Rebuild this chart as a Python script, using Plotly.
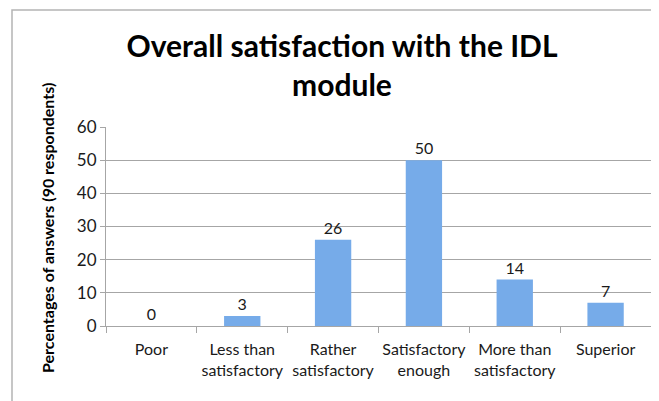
import plotly.graph_objects as go

# Survey answers (percent of 90 respondents)
CATEGORIES = ["Poor", "Less than<br>satisfactory", "Rather<br>satisfactory",
              "Satisfactory<br>enough", "More than<br>satisfactory", "Superior"]
PERCENTS = [0, 3, 26, 50, 14, 7]
Y_TICKS = [0, 10, 20, 30, 40, 50, 60]

FONT = "Lato, 'Open Sans', sans-serif"
TEXT = "#1a1a1a"
GRID = "#a6a6a6"
BAR = "#76abe9"

# page body has an 8px margin, so the figure is 8px smaller than the window
W, H = 651, 393
L, R, T, B = 98, 8, 119, 75
pw, ph = W - L - R, H - T - B

fig = go.Figure(go.Bar(
    x=CATEGORIES, y=PERCENTS,
    marker=dict(color=BAR, line=dict(width=0)),
    text=[str(v) for v in PERCENTS], textposition="outside",
    textfont=dict(family=FONT, size=16, color=TEXT),
    cliponaxis=False, width=0.4,
))

# thin frame around the chart (like the spreadsheet chart border)
fig.add_shape(type="rect", xref="paper", yref="paper",
              x0=(4 - L) / pw, x1=(W + 20 - L) / pw,
              y0=-(H + 20 - T - ph) / ph, y1=(H - B - 2) / ph,
              line=dict(color="#b4b4b4", width=1.5), fillcolor="rgba(0,0,0,0)",
              layer="below")

# y axis title placed by hand so the plot area keeps its size
fig.add_annotation(text="<b>Percentages of answers (90 respondents)</b>",
                   xref="paper", yref="paper", x=(39 - L) / pw, y=(H - B - 220) / ph,
                   textangle=-90, showarrow=False, xanchor="center", yanchor="middle",
                   font=dict(family=FONT, size=16, color="black"))

fig.update_layout(
    width=W, height=H,
    margin=dict(l=L, r=R, t=T, b=B, autoexpand=False),
    plot_bgcolor="white", paper_bgcolor="white",
    font=dict(family=FONT, color=TEXT),
    showlegend=False,
    title=dict(text="<b>Overall satisfaction with the IDL<br>module</b>",
               font=dict(family=FONT, size=30, color="black"),
               x=334 / W, xanchor="center",
               y=1 - 49 / H, yanchor="top"),
    xaxis=dict(showline=True, linecolor=GRID, linewidth=1, automargin=False,
               ticks="outside", tickson="boundaries", ticklen=6, tickcolor=GRID,
               tickangle=0, ticklabelstandoff=9,
               tickfont=dict(family=FONT, size=16, color=TEXT), showgrid=False),
    yaxis=dict(range=[0, 60], tickvals=Y_TICKS, showgrid=True, gridcolor=GRID,
               gridwidth=1, showline=True, linecolor=GRID, zeroline=False,
               automargin=False, ticks="outside", ticklen=5, tickcolor=GRID,
               tickfont=dict(family=FONT, size=17, color=TEXT)),
)

fig.write_html("out.html")
